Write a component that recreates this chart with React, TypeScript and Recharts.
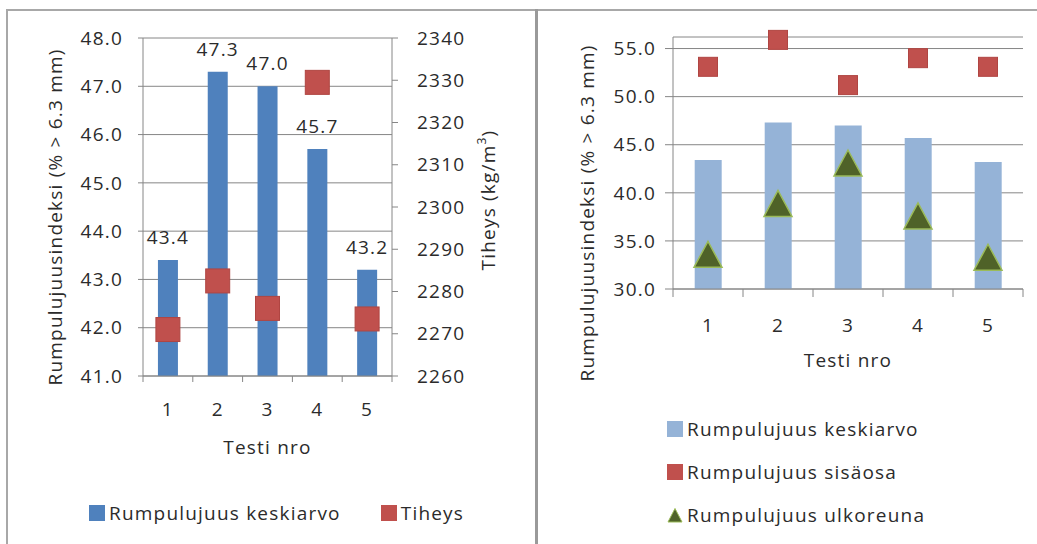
import React from "react"
import { ComposedChart, Bar, Line, XAxis, YAxis, CartesianGrid, Legend, LabelList, Label } from "recharts"

// test numbers on the x axis
const tests = ["1", "2", "3", "4", "5"]

// series values
const keskiarvo = [43.4, 47.3, 47.0, 45.7, 43.2]
const tiheys = [2271, 2282.5, 2276, 2329.5, 2273.5]
const sisaosa = [53.1, 55.9, 51.2, 54.0, 53.1]
const ulkoreuna = [33.6, 38.9, 43.1, 37.6, 33.3]

// tick labels
const indexTicks = [41, 42, 43, 44, 45, 46, 47, 48]
const densityTicks = [2260, 2270, 2280, 2290, 2300, 2310, 2320, 2330, 2340]
const rangeTicks = [30, 35, 40, 45, 50, 55]

const leftData = tests.map((t, i) => ({ test: t, keskiarvo: keskiarvo[i], tiheys: tiheys[i] }))
const rightData = tests.map((t, i) => ({
  test: t,
  keskiarvo: keskiarvo[i],
  sisaosa: sisaosa[i],
  ulkoreuna: ulkoreuna[i],
}))

const FONT = "'Open Sans', 'Noto Sans', sans-serif"
const TEXT = "#2b2b2b"
const AXIS = "#868686"
const FS = 19
const LS = 1.2
const textStyle = { fontFamily: FONT, fontSize: FS, letterSpacing: LS, fill: TEXT }

// plot widths, used for the band-edge tick marks
const LEFT_W = 535
const LEFT_AXIS = 143
const RIGHT_W = 499
const RIGHT_AXIS = 135
const RIGHT_PAD = 14

// category tick: label in the middle, tick marks on the band edges
function EdgeTick(props: any) {
  const { x, y, payload, index, visibleTicksCount, band, gap, len } = props
  const half = band / 2
  const base = y - gap
  return (
    <g>
      <line x1={x - half} x2={x - half} y1={base} y2={base + len} stroke={AXIS} />
      {index === visibleTicksCount - 1 && (
        <line x1={x + half} x2={x + half} y1={base} y2={base + len} stroke={AXIS} />
      )}
      <text x={x} y={y} textAnchor="middle" dominantBaseline="central" style={textStyle}>
        {payload.value}
      </text>
    </g>
  )
}

function VTitle(props: any) {
  const { viewBox, text, sup, dx, dy } = props
  const cx = viewBox.x + dx
  const cy = viewBox.y + viewBox.height / 2 + dy
  return (
    <text
      x={cx}
      y={cy}
      transform={`rotate(-90 ${cx} ${cy})`}
      textAnchor="middle"
      dominantBaseline="central"
      style={textStyle}
    >
      {text}
      {sup && (
        <tspan dy={-7} style={{ fontSize: 12 }}>
          {sup}
        </tspan>
      )}
      {sup && <tspan dy={7}>)</tspan>}
    </text>
  )
}

function HTitle(props: any) {
  const { viewBox, text, dy } = props
  return (
    <text
      x={viewBox.x + viewBox.width / 2}
      y={viewBox.y + dy}
      textAnchor="middle"
      dominantBaseline="central"
      style={textStyle}
    >
      {text}
    </text>
  )
}

function Square(props: any) {
  const { cx, cy, size } = props
  if (cx == null || cy == null) return null
  return (
    <rect
      x={cx - size / 2}
      y={cy - size / 2}
      width={size}
      height={size}
      fill="#C0504D"
      stroke="#B04542"
      strokeWidth={1}
    />
  )
}

function Triangle(props: any) {
  const { cx, cy } = props
  if (cx == null || cy == null) return null
  return (
    <polygon
      points={`${cx},${cy - 13} ${cx + 14},${cy + 13} ${cx - 14},${cy + 13}`}
      fill="#4F6228"
      stroke="#9BBB59"
      strokeWidth={1.5}
    />
  )
}

function LegendIcon({ type, color }: { type: string; color: string }) {
  if (type === "triangle") {
    return (
      <svg width={16} height={16} style={{ display: "block" }}>
        <polygon points="8,1.5 15,15 1,15" fill={color} stroke="#9BBB59" strokeWidth={1} />
      </svg>
    )
  }
  return (
    <svg width={16} height={16} style={{ display: "block" }}>
      <rect x={0} y={0} width={16} height={16} fill={color} />
    </svg>
  )
}

const legendText = { marginLeft: 4, fontSize: FS, color: TEXT, fontFamily: FONT, letterSpacing: LS }

function RowLegend(props: any) {
  return (
    <div style={{ height: 40, display: "flex", alignItems: "center", paddingLeft: 89 }}>
      {(props.payload || []).map((e: any) => (
        <div key={e.value} style={{ display: "flex", alignItems: "center", marginRight: 40 }}>
          <LegendIcon type={e.type} color={e.color} />
          <span style={legendText}>{e.value}</span>
        </div>
      ))}
    </div>
  )
}

function ColumnLegend(props: any) {
  return (
    <div style={{ paddingLeft: 129 }}>
      {(props.payload || []).map((e: any) => (
        <div key={e.value} style={{ height: 43, display: "flex", alignItems: "center" }}>
          <LegendIcon type={e.type} color={e.color} />
          <span style={legendText}>{e.value}</span>
        </div>
      ))}
    </div>
  )
}

function LeftChart() {
  const band = (LEFT_W - 2 * LEFT_AXIS) / tests.length
  return (
    <ComposedChart
      width={LEFT_W}
      height={544}
      data={leftData}
      margin={{ top: 38, right: 0, bottom: 11, left: 0 }}
      barCategoryGap="30%"
    >
      <CartesianGrid vertical={false} stroke={AXIS} yAxisId="index" />
      <XAxis
        dataKey="test"
        height={117}
        axisLine={{ stroke: AXIS }}
        tickLine={false}
        tickSize={0}
        tickMargin={33}
        tick={(p: any) => <EdgeTick {...p} band={band} gap={33} len={6} />}
      >
        <Label content={(p: any) => <HTitle {...p} text="Testi nro" dy={71} />} />
      </XAxis>
      <YAxis
        yAxisId="index"
        width={LEFT_AXIS}
        domain={[41, 48]}
        ticks={indexTicks}
        tickFormatter={(v: number) => v.toFixed(1)}
        axisLine={{ stroke: AXIS }}
        tickLine={{ stroke: AXIS }}
        tickSize={5}
        tickMargin={15}
        tick={{ fill: TEXT, fontSize: FS }}
      >
        <Label content={(p: any) => <VTitle {...p} text="Rumpulujuusindeksi (% > 6.3 mm)" dx={55} dy={10} />} />
      </YAxis>
      <YAxis
        yAxisId="density"
        orientation="right"
        width={LEFT_AXIS}
        domain={[2260, 2340]}
        ticks={densityTicks}
        axisLine={{ stroke: AXIS }}
        tickLine={{ stroke: AXIS }}
        tickSize={6}
        tickMargin={19}
        tick={{ fill: TEXT, fontSize: FS }}
      >
        <Label content={(p: any) => <VTitle {...p} text="Tiheys (kg/m" sup="3" dx={96} dy={-7} />} />
      </YAxis>
      <Legend verticalAlign="bottom" content={(p: any) => <RowLegend {...p} />} />
      <Bar
        yAxisId="index"
        dataKey="keskiarvo"
        name="Rumpulujuus keskiarvo"
        fill="#4F81BD"
        legendType="square"
        isAnimationActive={false}
      >
        <LabelList
          dataKey="keskiarvo"
          position="top"
          offset={16}
          formatter={(v: any) => Number(v).toFixed(1)}
          fill={TEXT}
          fontSize={FS}
        />
      </Bar>
      <Line
        yAxisId="density"
        dataKey="tiheys"
        name="Tiheys"
        stroke="#C0504D"
        strokeWidth={0}
        legendType="square"
        dot={(p: any) => <Square key={p.index} {...p} size={24} />}
        activeDot={false}
        isAnimationActive={false}
      />
    </ComposedChart>
  )
}

function RightChart() {
  const band = (RIGHT_W - RIGHT_AXIS - RIGHT_PAD) / tests.length
  return (
    <ComposedChart
      width={RIGHT_W}
      height={544}
      data={rightData}
      margin={{ top: 37, right: RIGHT_PAD, bottom: 8, left: 0 }}
      barCategoryGap="31%"
    >
      <CartesianGrid vertical={false} stroke={AXIS} />
      <XAxis
        dataKey="test"
        height={118}
        axisLine={{ stroke: AXIS }}
        tickLine={false}
        tickSize={0}
        tickMargin={36}
        tick={(p: any) => <EdgeTick {...p} band={band} gap={36} len={8} />}
      >
        <Label content={(p: any) => <HTitle {...p} text="Testi nro" dy={71} />} />
      </XAxis>
      <YAxis
        width={RIGHT_AXIS}
        domain={[30, 56.2]}
        ticks={rangeTicks}
        tickFormatter={(v: number) => v.toFixed(1)}
        axisLine={{ stroke: AXIS }}
        tickLine={{ stroke: AXIS }}
        tickSize={8}
        tickMargin={9}
        tick={{ fill: TEXT, fontSize: FS }}
      >
        <Label content={(p: any) => <VTitle {...p} text="Rumpulujuusindeksi (% > 6.3 mm)" dx={49} dy={50} />} />
      </YAxis>
      <Legend verticalAlign="bottom" content={(p: any) => <ColumnLegend {...p} />} />
      <Bar
        dataKey="keskiarvo"
        name="Rumpulujuus keskiarvo"
        fill="#95B3D7"
        legendType="square"
        isAnimationActive={false}
      />
      <Line
        dataKey="sisaosa"
        name="Rumpulujuus sisäosa"
        stroke="#C0504D"
        strokeWidth={0}
        legendType="square"
        dot={(p: any) => <Square key={p.index} {...p} size={19} />}
        activeDot={false}
        isAnimationActive={false}
      />
      <Line
        dataKey="ulkoreuna"
        name="Rumpulujuus ulkoreuna"
        stroke="#4F6228"
        strokeWidth={0}
        legendType="triangle"
        dot={(p: any) => <Triangle key={p.index} {...p} />}
        activeDot={false}
        isAnimationActive={false}
      />
    </ComposedChart>
  )
}

export default function App() {
  return (
    <div
      style={{
        position: "fixed",
        left: 0,
        top: 0,
        width: 1037,
        height: 544,
        background: "#fff",
        overflow: "hidden",
        fontFamily: FONT,
        letterSpacing: `${LS}px`,
      }}
    >
      <div style={{ position: "absolute", left: 0, top: 0 }}>
        <LeftChart />
      </div>
      <div style={{ position: "absolute", left: 538, top: 0 }}>
        <RightChart />
      </div>
      <div style={{ position: "absolute", left: 6, top: 9, width: 1031, height: 2, background: "#a8a8a8" }} />
      <div style={{ position: "absolute", left: 6, top: 9, width: 2, height: 535, background: "#a8a8a8" }} />
      <div style={{ position: "absolute", left: 535, top: 9, width: 3, height: 535, background: "#9a9a9a" }} />
    </div>
  )
}
